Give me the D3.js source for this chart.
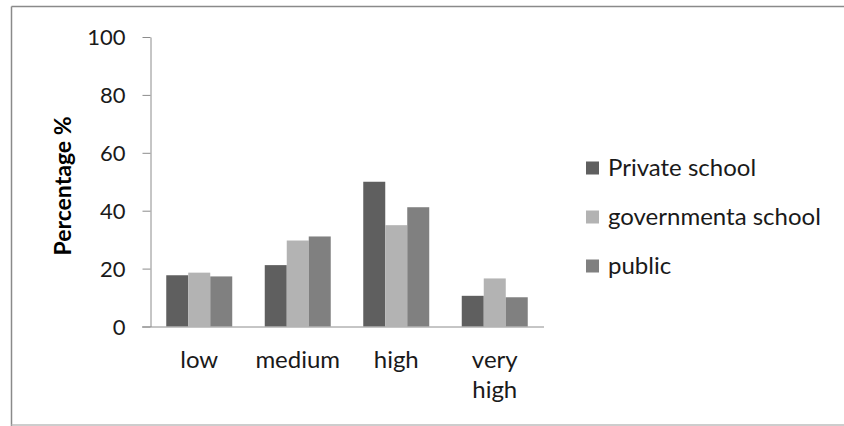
<!DOCTYPE html>
<html>
<head>
<meta charset="utf-8">
<script src="https://cdn.jsdelivr.net/npm/d3@7"></script>
<style>
html, body { margin: 0; padding: 0; background: #fff; }
svg { display: block; }
</style>
</head>
<body>
<svg id="chart" width="844" height="426"></svg>
<script>
const categories = [["low"], ["medium"], ["high"], ["very", "high"]];
const categoryKeys = ["low", "medium", "high", "very high"];
const seriesNames = ["Private school", "governmenta school", "public"];
const privateSchool = [17.7, 21.2, 50.0, 10.6];
const governmentaSchool = [18.6, 29.7, 35.0, 16.6];
const publicSchool = [17.3, 31.1, 41.2, 10.1];
const yTicks = [0, 20, 40, 60, 80, 100];
const yLabel = "Percentage %";
const colors = ["#5f5f5f", "#b3b3b3", "#808080"];

const seriesValues = [privateSchool, governmentaSchool, publicSchool];
const font = "Lato, 'Open Sans', sans-serif";

const svg = d3.select("#chart");

// frame
svg.append("line").attr("x1", 11.5).attr("x2", 844).attr("y1", 6.5).attr("y2", 6.5).attr("stroke", "#8a8a8a").attr("stroke-width", 1.5);
svg.append("line").attr("x1", 11.5).attr("x2", 11.5).attr("y1", 6.5).attr("y2", 426).attr("stroke", "#8a8a8a").attr("stroke-width", 1.5);
svg.append("line").attr("x1", 11.5).attr("x2", 844).attr("y1", 425).attr("y2", 425).attr("stroke", "#bdbdbd").attr("stroke-width", 1.5);

const y = d3.scaleLinear().domain([0, 100]).range([326.5, 37]);
const x0 = d3.scaleBand().domain(categoryKeys).range([150, 544]).paddingInner(0.33).paddingOuter(0.165);
const x1 = d3.scaleBand().domain(seriesNames).range([0, x0.bandwidth()]);

// y axis
const yAxis = d3.axisLeft(y).tickValues(yTicks).tickSize(8).tickPadding(17).tickSizeOuter(0);
const gy = svg.append("g").attr("transform", "translate(150.5,0)").call(yAxis);
gy.select(".domain").attr("stroke", "#8c8c8c");
gy.selectAll(".tick line").attr("stroke", "#8c8c8c");
gy.selectAll(".tick text").attr("font-family", font).attr("font-size", 22).attr("fill", "#1a1a1a").attr("dy", "0.36em");

// bars
categoryKeys.forEach((c, ci) => {
  seriesNames.forEach((s, si) => {
    const v = seriesValues[si][ci];
    svg.append("rect")
      .attr("x", x0(c) + x1(s))
      .attr("y", y(v))
      .attr("width", x1.bandwidth())
      .attr("height", y(0) - y(v))
      .attr("fill", colors[si]);
  });
});

// x axis
const xAxis = d3.axisBottom(x0).tickSize(0).tickFormat("");
const gx = svg.append("g").attr("transform", `translate(0,${y(0)})`).call(xAxis);
gx.select(".domain").attr("stroke", "#8c8c8c").attr("d", "M142,0.5H544");

categoryKeys.forEach((c, ci) => {
  const t = svg.append("text")
    .attr("x", x0(c) + x0.bandwidth() / 2)
    .attr("y", 368)
    .attr("text-anchor", "middle")
    .attr("font-family", font)
    .attr("font-size", 24)
    .attr("fill", "#1a1a1a");
  categories[ci].forEach((line, li) => {
    t.append("tspan").attr("x", x0(c) + x0.bandwidth() / 2).attr("dy", li === 0 ? 0 : 30).text(line);
  });
});

// y label
svg.append("text")
  .attr("transform", "translate(71,186) rotate(-90)")
  .attr("text-anchor", "middle")
  .attr("font-family", font)
  .attr("font-weight", "bold")
  .attr("font-size", 23)
  .attr("fill", "#000")
  .text(yLabel);

// legend
const legend = svg.append("g");
seriesNames.forEach((s, i) => {
  const cy = 168 + i * 49;
  legend.append("rect").attr("x", 586).attr("y", cy - 6.5).attr("width", 13).attr("height", 13).attr("fill", colors[i]);
  legend.append("text")
    .attr("x", 608)
    .attr("y", cy)
    .attr("dy", "0.35em")
    .attr("font-family", font)
    .attr("font-size", 24)
    .attr("fill", "#1a1a1a")
    .text(s);
});
</script>
</body>
</html>
